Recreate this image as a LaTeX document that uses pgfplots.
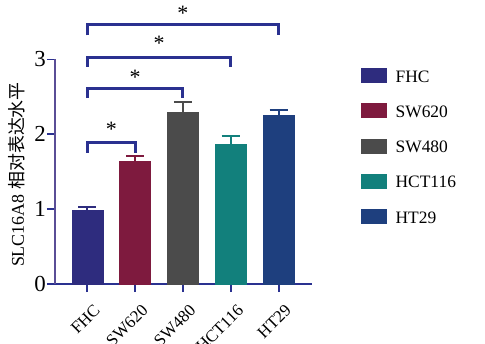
\documentclass[border=0pt]{standalone}
\usepackage{fontspec}
\setmainfont{Liberation Serif}
\newfontfamily\cjk{Noto Sans CJK SC}
\usepackage{pgfplots}
\pgfplotsset{compat=1.18}
\definecolor{cFHC}{HTML}{2E2C7E}
\definecolor{cSWA}{HTML}{7E1A3E}
\definecolor{cSWB}{HTML}{4B4B4B}
\definecolor{cHCT}{HTML}{12807C}
\definecolor{cHT}{HTML}{1E3F7E}
\definecolor{cBr}{HTML}{2A3190}
\definecolor{cAx}{HTML}{5A4E96}
\begin{document}
\begin{tikzpicture}
\path[use as bounding box] (0,0) rectangle (485bp,344bp);
\begin{axis}[
  at={(55bp,60bp)}, anchor=south west,
  scale only axis, width=257bp, height=224.7bp,
  xmin=-0.677, xmax=4.70, ymin=0, ymax=3,
  clip=false,
  axis lines=left,
  axis line style={-},
  x axis line style={cBr, line width=2bp},
  y axis line style={cAx, line width=1.2bp},
  tick align=outside,
  major tick length=8bp,
  xtick={0,1,2,3,4},
  xticklabels={FHC,SW620,SW480,HCT116,HT29},
  xtick style={cBr, line width=2bp},
  ytick={0,1,2,3},
  ytick style={cBr, line width=1.5bp},
  /pgf/number format/assume math mode=true,
  xticklabel style={rotate=45, anchor=north east, inner sep=0pt,
    font=\rmfamily\fontsize{17}{17}\selectfont, xshift=-4bp, yshift=-12bp},
  yticklabel style={inner sep=1bp, font=\rmfamily\fontsize{23}{23}\selectfont},
  ylabel={SLC16A8 {\cjk 相对表达水平}},
  ylabel style={at={(axis description cs:-0.148,0.487)}, anchor=center,
    font=\rmfamily\fontsize{18}{18}\selectfont},
  ybar, bar width=31bp,
  legend image code/.code={\fill[#1] (0bp,0bp) rectangle (25bp,14bp);},
  legend style={at={(axis description cs:1.1907,0.9613)}, anchor=north west,
    draw=none, fill=none, inner sep=0pt, row sep=18bp,
    font=\rmfamily\fontsize{17.5}{17.5}\selectfont,
    nodes={inner sep=0pt, text height=12bp, text depth=3bp, anchor=base west},
    /tikz/every odd column/.append style={column sep=9bp}},
  legend cell align=left,
]
\addplot[bar shift=0pt, fill=cFHC, draw=cFHC,
  error bars/.cd, y dir=plus, y explicit,
  error bar style={cFHC, line width=2bp}, error mark options={cFHC, mark size=9bp, line width=2bp, rotate=90}]
  coordinates {(0,0.98) +- (0,0.05)};
\addlegendentry{FHC}
\addplot[bar shift=0pt, fill=cSWA, draw=cSWA,
  error bars/.cd, y dir=plus, y explicit,
  error bar style={cSWA, line width=2bp}, error mark options={cSWA, mark size=9bp, line width=2bp, rotate=90}]
  coordinates {(1,1.64) +- (0,0.07)};
\addlegendentry{SW620}
\addplot[bar shift=0pt, fill=cSWB, draw=cSWB,
  error bars/.cd, y dir=plus, y explicit,
  error bar style={cSWB, line width=2bp}, error mark options={cSWB, mark size=9bp, line width=2bp, rotate=90}]
  coordinates {(2,2.29) +- (0,0.14)};
\addlegendentry{SW480}
\addplot[bar shift=0pt, fill=cHCT, draw=cHCT,
  error bars/.cd, y dir=plus, y explicit,
  error bar style={cHCT, line width=2bp}, error mark options={cHCT, mark size=9bp, line width=2bp, rotate=90}]
  coordinates {(3,1.865) +- (0,0.11)};
\addlegendentry{HCT116}
\addplot[bar shift=0pt, fill=cHT, draw=cHT,
  error bars/.cd, y dir=plus, y explicit,
  error bar style={cHT, line width=2bp}, error mark options={cHT, mark size=9bp, line width=2bp, rotate=90}]
  coordinates {(4,2.25) +- (0,0.07)};
\addlegendentry{HT29}
% significance brackets
\addplot[sharp plot, cBr, line width=3bp, forget plot, line join=miter] coordinates {(0,1.75) (0,1.89) (1,1.89) (1,1.75)};
\addplot[sharp plot, cBr, line width=3bp, forget plot, line join=miter] coordinates {(0,2.48) (0,2.61) (2,2.61) (2,2.48)};
\addplot[sharp plot, cBr, line width=3bp, forget plot, line join=miter] coordinates {(0,2.90) (0,3.03) (3,3.03) (3,2.90)};
\addplot[sharp plot, cBr, line width=3bp, forget plot, line join=miter] coordinates {(0,3.32) (0,3.46) (4,3.46) (4,3.32)};
\node[inner sep=0pt, font=\rmfamily\fontsize{22}{22}\selectfont] at (axis cs:0.5,2.06) {*};
\node[inner sep=0pt, font=\rmfamily\fontsize{22}{22}\selectfont] at (axis cs:1,2.76) {*};
\node[inner sep=0pt, font=\rmfamily\fontsize{22}{22}\selectfont] at (axis cs:1.5,3.21) {*};
\node[inner sep=0pt, font=\rmfamily\fontsize{22}{22}\selectfont] at (axis cs:2,3.61) {*};
\end{axis}
\end{tikzpicture}
\end{document}
